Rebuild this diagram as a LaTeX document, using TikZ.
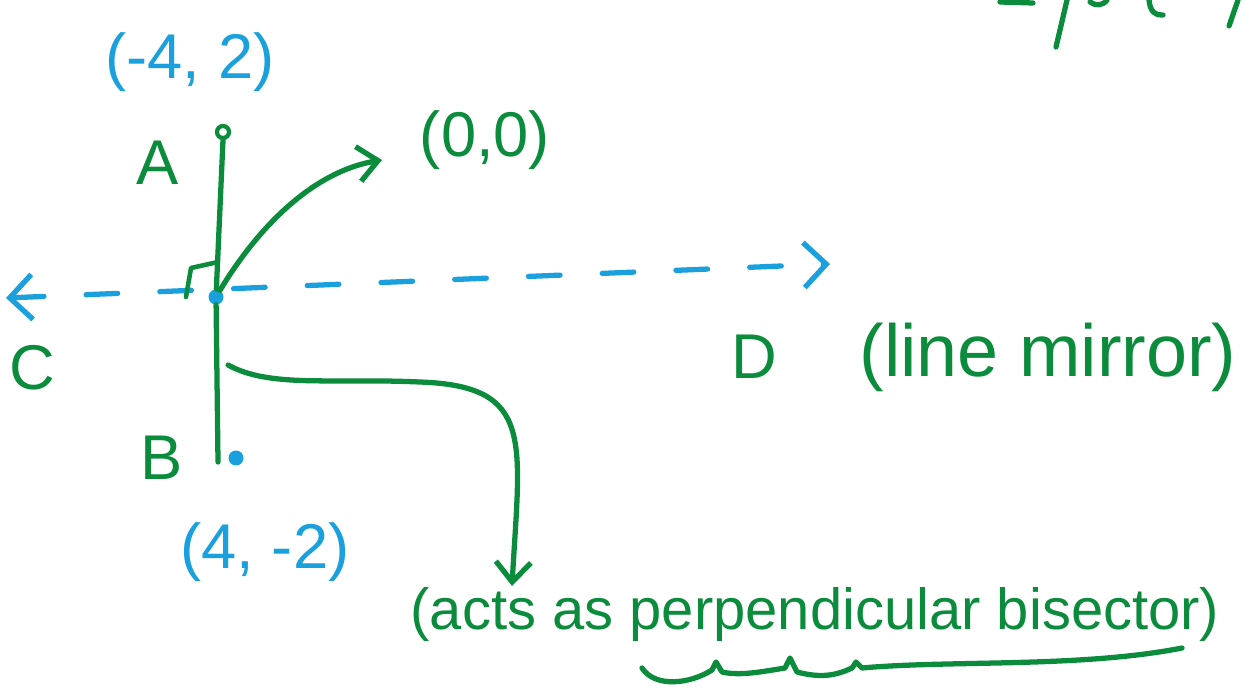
\documentclass[tikz,border=0pt]{standalone}
\usepackage{fontspec}
\setmainfont{Liberation Sans}
\usetikzlibrary{positioning, arrows.meta}
\definecolor{inkGreen}{HTML}{0B8C3C}
\definecolor{inkBlue}{HTML}{1AA0DC}

\begin{document}
\begin{tikzpicture}[
        x=0.02cm, y=-0.02cm,
        every node/.style={font=\fontsize{36}{40}\selectfont},
        greentxt/.style={text=inkGreen},
        bluetxt/.style={text=inkBlue},
        pen/.style={draw=inkGreen, line width=3pt, line cap=round, line join=round},
        arr/.style={pen, -{Straight Barb[length=4mm, width=7mm, line width=3pt]}},
        mirror/.style={draw=inkBlue, line width=3pt, line cap=round,
                       dash pattern=on 18pt off 24pt,
                       {Straight Barb[length=4.5mm, width=9mm, line width=3pt]}-{Straight Barb[length=4.5mm, width=9mm, line width=3pt]}},
        dotpt/.style={circle, fill=inkBlue, inner sep=0pt, minimum size=3mm},
      ]
        \useasboundingbox (0,0) rectangle (1246,688);

        % Segment AB
        \node[circle, draw=inkGreen, line width=2.4pt, inner sep=0pt, minimum size=2.4mm] (ptA) at (223,132) {};
        \coordinate (footB) at (218,462);
        \node[dotpt] (ptB) at (236,458) {};
        \node[dotpt] (mid) at (216,297) {};
        \draw[pen] (ptA.south) -- (mid) -- (footB);

        % Mirror line CD
        \coordinate (lineC) at (6,298);
        \coordinate (lineD) at (830,264);
        \draw[mirror] (lineC) -- (lineD);

        % Right angle mark
        \draw[pen, line width=2.6pt] (186,297) -- (191,268) -- (218,262);

        % Labels of the points
        \node[bluetxt] (lblA) at (190,62) {(-4, 2)};
        \node[greentxt] (nameA) at (158,163) {A};
        \node[greentxt] (nameB) at (162,458) {B};
        \node[bluetxt] (lblB) at (265,552) {(4, -2)};
        \node[greentxt] (nameC) at (32,368) {C};
        \node[greentxt, font=\fontsize{42}{46}\selectfont] (mirrorTxt) at (1048,357) {(line mirror)};
        \node[greentxt, left=14mm of mirrorTxt] (nameD) {D};
        \node[greentxt] (lblO) at (485,140) {(0,0)};
        \node[greentxt, font=\fontsize{33}{38}\selectfont] (bisectTxt) at (815,615) {(acts as perpendicular bisector)};

        % Pointers
        \coordinate (tipO) at (382,160);
        \draw[arr] (mid) .. controls (255,232) and (310,172) .. (tipO);
        \coordinate (bendStart) at (228,365);
        \coordinate (tipBis) at (512,586);
        \draw[arr] (bendStart) .. controls (270,388) and (330,378) .. (420,382)
                   .. controls (535,386) and (520,440) .. (tipBis);

        % Underline
        \draw[pen] (642,668) .. controls (655,688) and (690,684) .. (712,670) -- (716,662) -- (722,672)
                   .. controls (740,676) and (760,672) .. (785,668) -- (790,658) -- (797,672)
                   .. controls (820,678) and (835,676) .. (852,668) -- (856,662) -- (862,668)
                   .. controls (950,660) and (1080,668) .. (1182,648);

        % Cut-off writing, top right
        \draw[pen] (1000,2) -- (1033,3);
        \draw[pen] (1067,0) -- (1056,47);
        \draw[pen] (1090,2) .. controls (1095,6) and (1103,6) .. (1107,0);
        \draw[pen] (1149,0) .. controls (1150,12) and (1156,16) .. (1163,15);
        \draw[pen] (1238,0) -- (1229,26);
      \end{tikzpicture}
\end{document}
